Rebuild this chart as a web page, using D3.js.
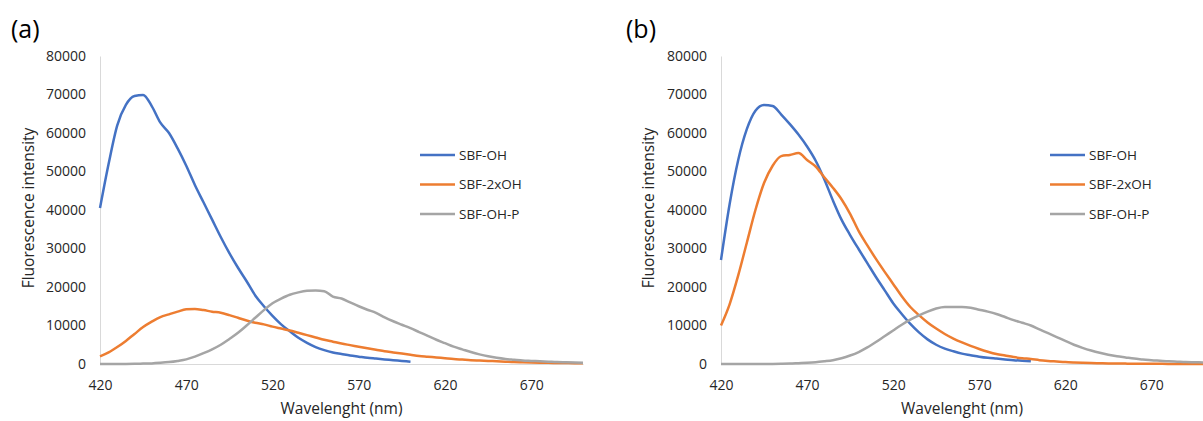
<!DOCTYPE html>
<html>
<head>
<meta charset="utf-8">
<script src="https://cdn.jsdelivr.net/npm/d3@7/dist/d3.min.js"></script>
<style>
  body { margin: 0; background: #fff; }
  svg text { font-family: "Open Sans", sans-serif; }
</style>
</head>
<body>
<svg id="chart" width="1203" height="421"></svg>
<script>

// emission wavelength grid (nm), 5 nm steps
const wavelengths = [420, 425, 430, 435, 440, 445, 450, 455, 460, 465, 470, 475, 480, 485, 490, 495,
    500, 505, 510, 515, 520, 525, 530, 535, 540, 545, 550, 555, 560, 565, 570, 575, 580, 585, 590, 595,
    600, 605, 610, 615, 620, 625, 630, 635, 640, 645, 650, 655, 660, 665, 670, 675, 680, 685, 690, 695, 700];

const seriesNames = ['SBF-OH', 'SBF-2xOH', 'SBF-OH-P'];
const seriesColors = ['#4472C4', '#ED7D31', '#A5A5A5'];
const xTicks = [420, 470, 520, 570, 620, 670];
const yTicks = [0, 10000, 20000, 30000, 40000, 50000, 60000, 70000, 80000];

// panel (a)
const a_OH = [40500, 52000, 62000, 67300, 69600, 69900, 67000, 62700, 60000, 56000, 51500, 46500, 42000, 37500,
    33000, 28800, 25000, 21500, 17800, 15000, 12500, 10300, 8500, 6800, 5500, 4400, 3600, 3000, 2600, 2200,
    1900, 1600, 1400, 1200, 1000, 800, 600];
const a_2xOH = [2000, 3000, 4400, 6000, 7800, 9600, 11000, 12200, 12900, 13600, 14200, 14300, 14000, 13600,
    13300, 12700, 12000, 11300, 10700, 10300, 9700, 9200, 8700, 8100, 7500, 6900, 6300, 5800, 5300, 4900,
    4500, 4100, 3700, 3300, 3000, 2700, 2400, 2100, 1900, 1700, 1500, 1300, 1150, 1000, 900, 800, 700,
    600, 500, 450, 400, 350, 300, 280, 250, 220, 200];
const a_OHP = [0, 0, 0, 20, 50, 100, 150, 300, 500, 800, 1200, 1900, 2800, 3800, 5000, 6500, 8100, 10000,
    12000, 14000, 15800, 17000, 18000, 18600, 19000, 19100, 18900, 17500, 17000, 16000, 15000, 14100,
    13300, 12100, 11100, 10200, 9300, 8300, 7300, 6300, 5400, 4500, 3800, 3100, 2500, 2000, 1600, 1300,
    1100, 900, 800, 700, 600, 500, 450, 400, 350];

// panel (b)
const b_OH = [27000, 41500, 53000, 61000, 65800, 67300, 67000, 64800, 62300, 59600, 56500, 52800, 48000, 42500,
    37500, 33500, 29800, 26200, 22600, 19200, 15800, 13000, 10400, 8200, 6400, 5000, 4000, 3300, 2700, 2300,
    1900, 1600, 1400, 1200, 1000, 850, 700];
const b_2xOH = [10000, 15500, 23000, 31500, 40000, 47000, 51500, 54000, 54300, 54800, 53000, 51300, 48500,
    45800, 42800, 39000, 34500, 30800, 27300, 24000, 20800, 17600, 14800, 12700, 10800, 9200, 7800, 6600,
    5600, 4700, 3900, 3200, 2600, 2200, 1800, 1500, 1300, 1000, 800, 650, 500, 400, 320, 250, 200, 150,
    120, 100, 80, 60, 50, 40, 30, 30, 20, 20, 20];
const b_OHP = [0, 0, 0, 0, 0, 0, 20, 50, 100, 200, 300, 450, 700, 1000, 1500, 2200, 3100, 4300, 5700, 7200,
    8700, 10200, 11500, 12600, 13600, 14400, 14800, 14800, 14800, 14600, 14100, 13600, 13000, 12200, 11400,
    10700, 10000, 9000, 8000, 7000, 6000, 5000, 4200, 3500, 2900, 2400, 2000, 1700, 1400, 1200, 1000, 850,
    700, 600, 500, 450, 400];


let spectrumChart = function(){

    this._data = null;
    this._selection = null;
    this._size = null;
    this._layout = null;

    this.data = function(){
        if (arguments.length > 0){
            this._data = arguments[0];
            return this;
        } else return this._data;
    }

    this.selection = function(){
        if (arguments.length > 0){
            this._selection = arguments[0];
            return this;
        } else return this._selection;
    }

    this.size = function(){
        if (arguments.length > 0){
            this._size = arguments[0];
            return this;
        } else return this._size;
    }

    this.layout = function(){
        if (arguments.length > 0){
            this._layout = arguments[0];
            return this;
        } else return this._layout;
    }

    //---------------------
    this.draw = function(){
        let g = this._selection;
        let w = this._size.w, h = this._size.h;
        let lay = this._layout;
        let textColor = '#262626';

        let xScale = d3.scaleLinear().domain([420, 700]).range([0, w]);
        let yScale = d3.scaleLinear().domain([0, 80000]).range([h, 0]);

        // axes: light grey domain lines, no tick marks
        g.append('g')
            .attr('transform', `translate(0, ${h})`)
            .call(d3.axisBottom(xScale).tickValues(xTicks).tickSize(0).tickPadding(16).tickFormat(d3.format('d')))
            .call(ax => ax.select('.domain').attr('stroke', '#d9d9d9'));

        g.append('g')
            .call(d3.axisLeft(yScale).tickValues(yTicks).tickSize(0).tickPadding(14).tickFormat(d3.format('d')))
            .call(ax => ax.select('.domain').attr('stroke', '#d9d9d9'));

        g.selectAll('.tick text')
            .attr('font-size', 14)
            .attr('font-family', '"Open Sans", sans-serif')
            .attr('fill', textColor);

        let line = d3.line()
            .x(d => xScale(d[0]))
            .y(d => yScale(d[1]))
            .curve(d3.curveMonotoneX);

        g.selectAll('.spectrum')
            .data(this._data)
            .join('path')
            .classed('spectrum', true)
            .attr('fill', 'none')
            .attr('stroke', (d, i) => seriesColors[i])
            .attr('stroke-width', 2.5)
            .attr('stroke-linejoin', 'round')
            .attr('d', d => line(d.map((v, i) => [wavelengths[i], v])));

        // legend
        let legend = g.selectAll('.legendItem')
            .data(seriesNames)
            .join('g')
            .classed('legendItem', true)
            .attr('transform', (d, i) => `translate(${lay.legendX}, ${lay.legendY + i * 29.5})`);

        legend.append('line')
            .attr('x1', 0)
            .attr('x2', 35)
            .attr('stroke', (d, i) => seriesColors[i])
            .attr('stroke-width', 2.5);

        legend.append('text')
            .attr('x', 39)
            .attr('dy', '0.35em')
            .attr('font-size', 13.5)
            .attr('fill', textColor)
            .text(d => d);

        // titles
        g.append('text')
            .attr('x', w / 2)
            .attr('y', h + 50)
            .attr('text-anchor', 'middle')
            .attr('font-size', 15.5)
            .attr('fill', textColor)
            .text('Wavelenght (nm)');

        g.append('text')
            .attr('transform', `translate(${lay.yTitleX}, ${h / 2 - 2}) rotate(-90)`)
            .attr('text-anchor', 'middle')
            .attr('dy', '0.35em')
            .attr('font-size', 15.5)
            .attr('fill', textColor)
            .text('Fluorescence intensity');

        g.append('text')
            .attr('x', lay.labelX)
            .attr('y', -18)
            .attr('font-size', 25)
            .attr('fill', '#000')
            .text(lay.label);
    }
}


let svg = d3.select('#chart');

new spectrumChart()
    .selection(svg.append('g').attr('transform', 'translate(100, 56)'))
    .size({w: 483, h: 308})
    .layout({label: '(a)', labelX: -89, legendX: 320, legendY: 99, yTitleX: -71})
    .data([a_OH, a_2xOH, a_OHP])
    .draw();

new spectrumChart()
    .selection(svg.append('g').attr('transform', 'translate(721, 56)'))
    .size({w: 482, h: 308})
    .layout({label: '(b)', labelX: -95, legendX: 329, legendY: 99, yTitleX: -72})
    .data([b_OH, b_2xOH, b_OHP])
    .draw();

</script>
</body>
</html>
